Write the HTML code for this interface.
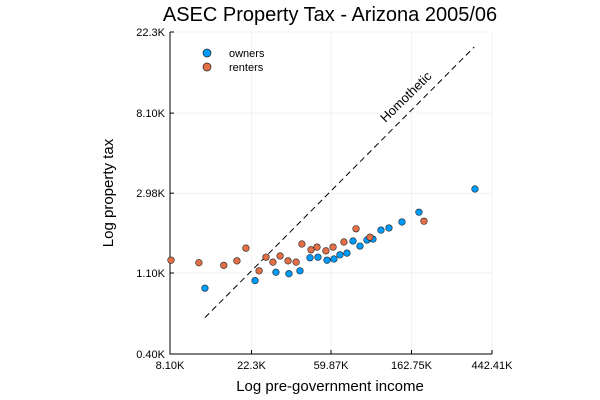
<!DOCTYPE html>
<html><head><meta charset="utf-8"><style>body{margin:0;background:#fff}svg{display:block;font-family:"Liberation Sans",sans-serif}</style></head>
<body>
<svg id="chart" width="600" height="400" viewBox="0 0 600 400">
<rect width="600" height="400" fill="#fff"/>
<text x="330" y="21" font-size="20" text-anchor="middle" fill="#000">ASEC Property Tax - Arizona 2005/06</text>
<g id="grid"></g>
<g id="axes"></g>
<g id="marks"></g>
<text x="330" y="391" font-size="15" text-anchor="middle">Log pre-government income</text>
<text transform="translate(113,193) rotate(-90)" font-size="15" text-anchor="middle">Log property tax</text>
<g>
<circle cx="207" cy="53" r="4" fill="#009af9" stroke="#222" stroke-width="0.7"/>
<text x="229" y="57" font-size="11">owners</text>
<circle cx="207" cy="67" r="4" fill="#e26f46" stroke="#222" stroke-width="0.7"/>
<text x="229" y="71" font-size="11">renters</text>
</g>
</svg>
<script>
const xTicks=[8.10,22.3,59.87,162.75,442.41];
const xTickLabels=["8.10K","22.3K","59.87K","162.75K","442.41K"];
const yTicks=[0.40,1.10,2.98,8.10,22.3];
const yTickLabels=["0.40K","1.10K","2.98K","8.10K","22.3K"];
const ownersX=[12.5,23.3,30.2,35.5,40.7,46.1,50.9,57.0,62.1,66.9,73.0,78.7,85.8,93.6,100.8,111.4,123.0,144.6,178.5,358];
const ownersY=[0.91,1.00,1.11,1.09,1.13,1.33,1.34,1.29,1.31,1.38,1.41,1.64,1.54,1.66,1.68,1.88,1.93,2.08,2.35,3.14];
const rentersX=[8.2,11.6,15.8,18.6,20.8,24.5,26.7,29.1,31.8,35.1,38.8,41.7,46.7,50.3,56.2,61.4,70.3,81.7,97.1,190];
const rentersY=[1.29,1.25,1.21,1.28,1.50,1.13,1.34,1.26,1.36,1.28,1.26,1.58,1.47,1.52,1.45,1.52,1.62,1.91,1.72,2.10];
const lineX=[12.5,355];
const lineY=[0.63,18.5];
const X0=170,X1=492,Y0=354,Y1=32;
const xs=v=>X0+(Math.log(v)-Math.log(xTicks[0]))/(Math.log(xTicks[4])-Math.log(xTicks[0]))*(X1-X0);
const ys=v=>Y0-(Math.log(v)-Math.log(yTicks[0]))/(Math.log(yTicks[4])-Math.log(yTicks[0]))*(Y0-Y1);
const NS="http://www.w3.org/2000/svg";
function mk(t,a,p){const e=document.createElementNS(NS,t);for(const k in a)e.setAttribute(k,a[k]);p.appendChild(e);return e;}
const grid=document.getElementById('grid'),axes=document.getElementById('axes'),marks=document.getElementById('marks');
xTicks.forEach((v,i)=>{const x=xs(v);
const g=mk('line',{x1:x,x2:x,y1:Y1,y2:Y0,stroke:'#000','stroke-opacity':0.1,'stroke-width':0.5},grid);


const tk=mk('line',{x1:x,x2:x,y1:Y0,y2:Y0-4,stroke:'#000'},axes);


const t=mk('text',{x:x,y:Y0+15,'font-size':11,'text-anchor':'middle'},axes);t.textContent=xTickLabels[i];

});
yTicks.forEach((v,i)=>{const y=ys(v);
const g=mk('line',{x1:X0,x2:X1,y1:y,y2:y,stroke:'#000','stroke-opacity':0.1,'stroke-width':0.5},grid);


const tk=mk('line',{x1:X0,x2:X0+4,y1:y,y2:y,stroke:'#000'},axes);


const t=mk('text',{x:X0-5,y:y+4,'font-size':11,'text-anchor':'end'},axes);t.textContent=yTickLabels[i];

});
const ax=mk('path',{d:`M${X0},${Y1}V${Y0}H${X1}`,fill:'none',stroke:'#000','stroke-width':1},axes);


const hl=mk('line',{x1:xs(lineX[0]),y1:ys(lineY[0]),x2:xs(lineX[1]),y2:ys(lineY[1]),stroke:'#000','stroke-dasharray':'6 4','stroke-width':1},marks);


const lt=mk('text',{transform:'translate(409,100) rotate(-44.5)','font-size':13,'text-anchor':'middle'},marks);lt.textContent='Homothetic';


function pts(X,Y,c,n){X.forEach((v,i)=>{const p=mk('circle',{cx:xs(v),cy:ys(Y[i]),r:3.3,fill:c,stroke:'#222','stroke-width':0.6},marks);

});}
pts(ownersX,ownersY,'#009af9','owners-point');
pts(rentersX,rentersY,'#e26f46','renters-point');
</script>
</body></html>
